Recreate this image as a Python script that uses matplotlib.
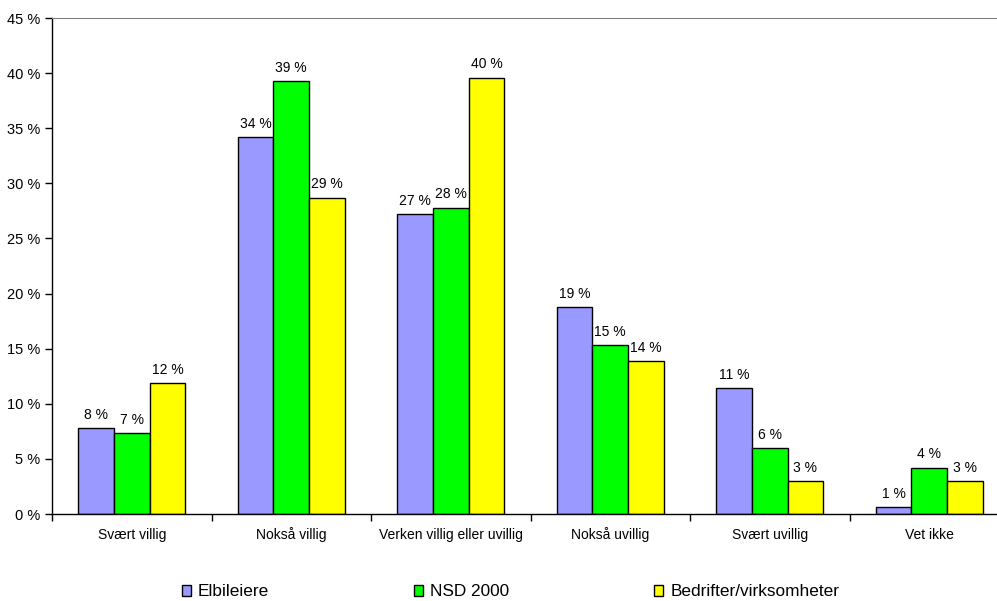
import numpy as np
import matplotlib.pyplot as plt
from matplotlib.patches import Patch

# =====================================================
# DATA
# =====================================================
categories = ["Svært villig", "Nokså villig", "Verken villig eller uvillig",
              "Nokså uvillig", "Svært uvillig", "Vet ikke"]

elbileiere = [7.8, 34.2, 27.2, 18.8, 11.4, 0.6]
nsd_2000 = [7.35, 39.3, 27.8, 15.3, 6.0, 4.2]
bedrifter = [11.9, 28.7, 39.6, 13.9, 2.95, 2.95]

series_names = ["Elbileiere", "NSD 2000", "Bedrifter/virksomheter"]
colors = ["#9999FF", "#00FF00", "#FFFF00"]

plt.rcParams['font.family'] = ['Liberation Sans', 'DejaVu Sans']

# =====================================================
# CHART
# =====================================================
fig = plt.figure(figsize=(9.97, 6.01), dpi=100)
ax = fig.add_axes([52 / 997, 87 / 601, 957 / 997, 496 / 601])

x = np.arange(len(categories))
w = 0.224

for k, (vals, name, col) in enumerate(zip([elbileiere, nsd_2000, bedrifter], series_names, colors)):
    pos = x + (k - 1) * w
    ax.bar(pos, vals, width=w, color=col, edgecolor='black', linewidth=1, label=name)
    for px, v in zip(pos, vals):
        ax.annotate(f"{round(v):.0f} %", (px, v), xytext=(0, 4.5), textcoords='offset points',
                    ha='center', va='bottom', fontsize=10)

ax.set_xlim(-0.5, len(categories) - 0.5)
ax.set_ylim(0, 45)
ax.set_yticks(np.arange(0, 46, 5))
ax.set_yticklabels([f"{t} %" for t in range(0, 46, 5)], fontsize=10.5)

# category boundaries as ticks, names as separate text on a common baseline
ax.set_xticks(np.arange(-0.5, len(categories), 1))
ax.set_xticklabels([])
for i, cat in enumerate(categories):
    ax.annotate(cat, (i, 0), xycoords=('data', 'axes fraction'), xytext=(0, -18),
                textcoords='offset points', ha='center', va='baseline', fontsize=10)
ax.tick_params(axis='x', direction='out', length=5, width=1)
ax.tick_params(axis='y', direction='out', length=5, width=1)

ax.spines['right'].set_visible(False)
ax.spines['top'].set_color('#808080')
ax.spines['left'].set_linewidth(1)
ax.spines['bottom'].set_linewidth(1)

handles = [Patch(facecolor=c, edgecolor='black', label=n) for c, n in zip(colors, series_names)]
fig.legend(handles=handles, loc='center', bbox_to_anchor=(0.512, 1 - 592 / 601), ncol=3,
           frameon=False, fontsize=12.4, handlelength=0.55, handleheight=0.55,
           handletextpad=0.4, columnspacing=8.4, borderpad=0)

plt.savefig("out.png", dpi=100)
